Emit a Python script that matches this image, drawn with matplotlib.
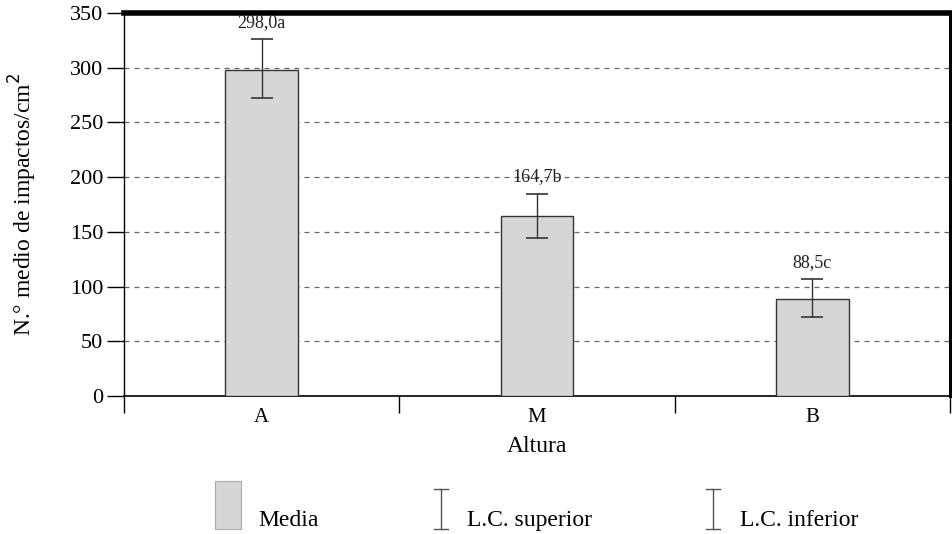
import matplotlib
matplotlib.use("Agg")
import matplotlib.pyplot as plt
from matplotlib.patches import Rectangle
from matplotlib.lines import Line2D

# Data
alturas = ["A", "M", "B"]
medias = [298.0, 164.7, 88.5]
lc_superior = [326.0, 185.0, 106.5]
lc_inferior = [272.0, 144.5, 72.0]
etiquetas = ["298,0a", "164,7b", "88,5c"]
yticks = [0, 50, 100, 150, 200, 250, 300, 350]

plt.rcParams['font.family'] = ['Liberation Serif', 'DejaVu Serif']

W, H = 953, 534
fig = plt.figure(figsize=(W / 100, H / 100), dpi=100)
ax = fig.add_axes([124 / W, 1 - 396 / H, (950 - 124) / W, (396 - 13) / H])

bar_fill = '#d6d6d6'
dark = '#333333'

x = list(range(len(alturas)))
ax.bar(x, medias, width=0.265, color=bar_fill, edgecolor=dark, linewidth=1.0, zorder=3)

err_low = [m - lo for m, lo in zip(medias, lc_inferior)]
err_high = [hi - m for m, hi in zip(medias, lc_superior)]
ax.errorbar(x, medias, yerr=[err_low, err_high], fmt='none', ecolor=dark,
            elinewidth=1.0, capsize=8, capthick=1.2, zorder=4)

for xi, top, lab in zip(x, lc_superior, etiquetas):
    ax.annotate(lab, (xi, top), xytext=(0, 6), textcoords='offset points',
                ha='center', va='bottom', fontsize=13, color='#222222')

ax.set_xlim(-0.5, 2.5)
ax.set_ylim(0, 350)
ax.set_yticks(yticks)
ax.set_yticklabels([str(t) for t in yticks], fontsize=16)
ax.set_xticks(x)
ax.set_xticklabels(alturas, fontsize=15)
ax.set_xticks([-0.5, 0.5, 1.5, 2.5], minor=True)
ax.tick_params(axis='x', which='major', length=0, pad=9)
ax.tick_params(axis='x', which='minor', length=12, width=1.0, direction='out')
ax.tick_params(axis='y', length=12, width=1.0, direction='out', pad=3)

for t in yticks[1:-1]:
    ax.axhline(t, color='#666666', linewidth=0.9, linestyle=(0, (4, 4)), zorder=1)

ax.spines['left'].set_linewidth(1.0)
ax.spines['bottom'].set_linewidth(1.2)
ax.spines['top'].set_linewidth(4.0)
ax.spines['right'].set_linewidth(2.2)
for s in ax.spines.values():
    s.set_color('black')

ax.set_ylabel("N.° medio de impactos/cm$^2$", fontsize=17, labelpad=22)
ax.set_xlabel("Altura", fontsize=17, labelpad=6)


def fx(px):
    return px / W


def fy(py):
    return 1 - py / H


# Legend drawn below the axes
fig.add_artist(Rectangle((fx(215), fy(529)), fx(241) - fx(215), fy(481) - fy(529),
                         transform=fig.transFigure, facecolor=bar_fill,
                         edgecolor='#aaaaaa', linewidth=0.8))
fig.text(fx(258), fy(526), "Media", fontsize=17, va='baseline', ha='left')

for cx, tx, lab in [(441, 467, "L.C. superior"), (713, 740, "L.C. inferior")]:
    fig.add_artist(Line2D([fx(cx), fx(cx)], [fy(489), fy(529)],
                          transform=fig.transFigure, color='#555555', lw=1.0))
    for cy in (489, 529):
        fig.add_artist(Line2D([fx(cx - 7), fx(cx + 7)], [fy(cy), fy(cy)],
                              transform=fig.transFigure, color='#555555', lw=1.0))
    fig.text(fx(tx), fy(526), lab, fontsize=17, va='baseline', ha='left')

fig.savefig("out.png", dpi=100)
